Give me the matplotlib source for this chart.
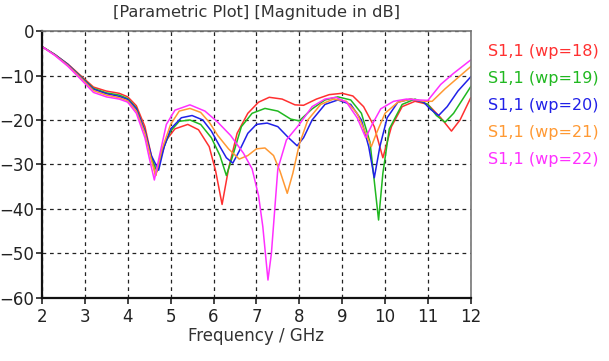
import numpy as np
import matplotlib
matplotlib.use("Agg")
import matplotlib.pyplot as plt

# S11 curves, one (freq, dB) list per wp value
f18 = [2.0, 2.3, 2.6, 2.9, 3.2, 3.5, 3.8, 4.0, 4.2, 4.4, 4.55, 4.65, 4.75, 4.9, 5.1, 5.4,
       5.65, 5.9, 6.05, 6.2, 6.35, 6.55, 6.8, 7.05, 7.3, 7.6, 7.9, 8.1, 8.4, 8.7, 9.0,
       9.25, 9.5, 9.75, 9.95, 10.15, 10.4, 10.7, 11.0, 11.3, 11.55, 11.75, 12.0]
s18 = [-3.5, -5.3, -7.4, -10.0, -12.6, -13.5, -14.0, -14.8, -16.8, -21.5, -28.0, -32.5,
       -29.0, -24.5, -22.0, -21.0, -22.2, -26.0, -31.5, -39.0, -31.0, -23.0, -18.5, -16.0,
       -14.9, -15.3, -16.6, -16.7, -15.3, -14.3, -14.0, -14.6, -17.0, -21.5, -28.5, -21.5,
       -17.0, -15.8, -16.5, -19.5, -22.5, -20.0, -15.0]

f19 = [2.0, 2.3, 2.6, 2.9, 3.2, 3.5, 3.8, 4.0, 4.2, 4.4, 4.55, 4.68, 4.8, 5.0, 5.2, 5.45,
       5.7, 5.95, 6.15, 6.3, 6.45, 6.65, 6.9, 7.2, 7.5, 7.8, 8.0, 8.3, 8.6, 8.9, 9.2,
       9.45, 9.65, 9.85, 9.95, 10.1, 10.4, 10.7, 11.0, 11.2, 11.4, 11.6, 11.8, 12.0]
s19 = [-3.5, -5.3, -7.5, -10.2, -12.9, -13.9, -14.4, -15.2, -17.3, -22.5, -28.5, -31.5,
       -27.0, -22.5, -20.3, -20.0, -21.0, -24.0, -28.0, -32.5, -28.0, -21.5, -18.5, -17.4,
       -18.0, -19.8, -20.2, -17.5, -15.5, -14.8, -15.5, -18.5, -25.0, -42.5, -32.0, -22.0,
       -16.5, -15.3, -16.5, -19.0, -20.5, -18.5, -15.5, -12.5]

f20 = [2.0, 2.3, 2.6, 2.9, 3.2, 3.5, 3.8, 4.0, 4.2, 4.4, 4.55, 4.72, 4.85, 5.0, 5.25,
       5.5, 5.75, 5.95, 6.15, 6.3, 6.45, 6.6, 6.8, 7.0, 7.25, 7.5, 7.75, 7.95, 8.1, 8.3,
       8.6, 8.9, 9.2, 9.45, 9.62, 9.75, 9.88, 10.05, 10.3, 10.6, 10.9, 11.05, 11.25,
       11.45, 11.7, 12.0]
s20 = [-3.5, -5.3, -7.5, -10.3, -13.1, -14.1, -14.7, -15.4, -17.5, -22.5, -28.0, -31.3,
       -26.0, -22.0, -19.5, -19.0, -20.0, -22.5, -26.0, -28.5, -29.7, -27.0, -23.0, -21.0,
       -20.7, -21.5, -24.0, -25.8, -24.0, -20.0, -16.5, -15.5, -16.5, -20.0, -26.0, -33.0,
       -26.0, -19.5, -16.0, -15.3, -16.0, -17.5, -19.0, -17.0, -13.5, -10.3]

f21 = [2.0, 2.3, 2.6, 2.9, 3.2, 3.5, 3.8, 4.0, 4.2, 4.4, 4.55, 4.65, 4.8, 5.0, 5.2, 5.45,
       5.7, 5.9, 6.1, 6.35, 6.6, 6.8, 7.0, 7.2, 7.4, 7.55, 7.72, 7.85, 8.0, 8.2, 8.5,
       8.8, 9.1, 9.35, 9.55, 9.68, 9.8, 10.0, 10.3, 10.6, 10.9, 11.1, 11.4, 11.7, 12.0]
s21 = [-3.5, -5.4, -7.7, -10.5, -13.4, -14.4, -15.0, -15.7, -18.0, -23.0, -29.0, -32.5,
       -26.5, -21.0, -18.0, -17.4, -18.3, -20.5, -23.5, -26.5, -28.8, -28.0, -26.5, -26.3,
       -28.0, -31.5, -36.5, -32.0, -25.5, -20.0, -16.5, -15.3, -15.8, -18.5, -23.0, -26.0,
       -23.0, -18.5, -16.0, -15.3, -15.8, -15.8, -13.0, -10.5, -8.0]

f22 = [2.0, 2.3, 2.6, 2.9, 3.2, 3.5, 3.8, 4.0, 4.2, 4.4, 4.5, 4.62, 4.74, 4.9, 5.1, 5.45,
       5.8, 6.1, 6.4, 6.7, 6.9, 7.05, 7.15, 7.27, 7.35, 7.5, 7.7, 8.0, 8.3, 8.6, 8.85,
       9.1, 9.35, 9.55, 9.7, 9.9, 10.2, 10.5, 10.8, 11.0, 11.3, 11.6, 12.0]
s22 = [-3.5, -5.5, -7.9, -10.8, -13.8, -14.8, -15.3, -16.0, -18.5, -24.0, -28.5, -33.5,
       -28.0, -21.0, -17.8, -16.6, -18.0, -20.5, -23.5, -27.5, -31.0, -37.0, -44.0, -56.0,
       -50.0, -31.0, -24.5, -21.0, -17.0, -15.3, -14.9, -16.0, -19.5, -24.0, -21.0, -17.5,
       -15.8, -15.3, -15.5, -15.6, -12.0, -9.5, -6.5]

labels = ["S1,1 (wp=18)", "S1,1 (wp=19)", "S1,1 (wp=20)", "S1,1 (wp=21)", "S1,1 (wp=22)"]
colors = ["#ff3030", "#20b820", "#2020e8", "#ff9933", "#ff30ff"]
series = [(f18, s18), (f19, s19), (f20, s20), (f21, s21), (f22, s22)]

xticks = np.arange(2, 13, 1)
yticks = np.arange(-60, 1, 10)

fig = plt.figure(figsize=(6.09, 3.61), dpi=100)
ax = fig.add_axes([0.069, 0.175, 0.704, 0.739])

for (f, s), c, lab in zip(series, colors, labels):
    ax.plot(f, s, color=c, lw=1.1, label=lab)

ax.set_xlim(2, 12)
ax.set_ylim(-60, 0)
ax.set_xticks(xticks)
ax.set_yticks(yticks)
ax.grid(True, color="#222222", linestyle=(0, (3, 3)), lw=0.9)
ax.tick_params(direction="out", length=4, width=1.2, labelsize=12, colors="#222222")
ax.tick_params(axis="y", pad=1.5)
ax.tick_params(axis="x", pad=3)

for side in ["left", "bottom"]:
    ax.spines[side].set_linewidth(1.6)
    ax.spines[side].set_color("#111111")
for side in ["top", "right"]:
    ax.spines[side].set_linewidth(1.2)
    ax.spines[side].set_color("#777777")

ax.set_title("[Parametric Plot] [Magnitude in dB]", fontsize=11.7, color="#333333", pad=10)
ax.set_xlabel("Frequency / GHz", fontsize=12, color="#333333", labelpad=1)

leg = ax.legend(loc="upper left", bbox_to_anchor=(1.025, 0.975), frameon=False,
                handlelength=0, handletextpad=0, labelcolor="linecolor",
                fontsize=11.5, labelspacing=0.75, borderaxespad=0)
for h in leg.legend_handles:
    h.set_visible(False)

fig.savefig("out.png", dpi=100)
